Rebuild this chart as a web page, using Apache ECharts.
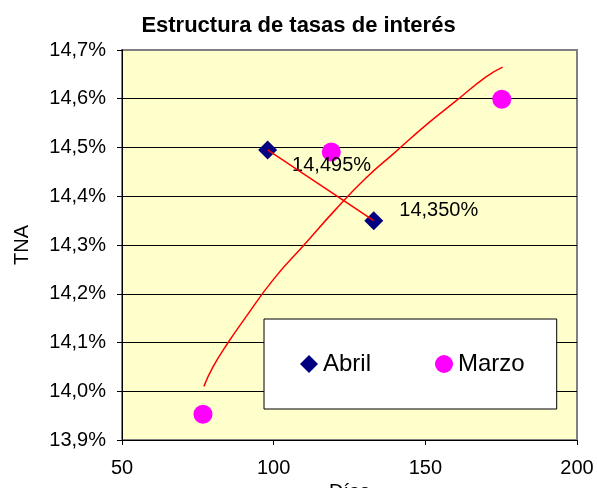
<!DOCTYPE html>
<html>
  <head>
    <title>Estructura de tasas de interés</title>
    <meta charset='utf-8' />
    <script src="https://cdn.jsdelivr.net/npm/echarts@6/dist/echarts.min.js"></script>
    <style>
      body { margin: 0; background: #fff; }
    </style>
  </head>
  <body>
    <div id="content" style="width: 597px; height: 488px;"></div>

    <script type="text/javascript">
      // Puntos de cada curva (días, TNA %)
      var abril = [[98, 14.495], [133, 14.350]];
      var marzo = [[76.7, 13.953], [119, 14.491], [175.2, 14.599]];

      // Líneas de tendencia
      var abrilTrend = [[98, 14.495], [133, 14.350]];
      var marzoTrend = [[77, 14.01], [80, 14.05], [85, 14.10], [90, 14.145], [100, 14.23],
                        [110, 14.30], [120, 14.37], [130, 14.435], [140, 14.49], [150, 14.545],
                        [160, 14.595], [170, 14.645], [175.5, 14.665]];

      var font = 'Liberation Sans, Arial, sans-serif';

      function pct(v, d) {
        return v.toFixed(d).replace('.', ',') + '%';
      }

      var myChart = echarts.init(document.getElementById('content'));
      var options = {
        animation: false,
        title: {
          text: 'Estructura de tasas de interés',
          left: 'center',
          top: 10,
          textStyle: {fontFamily: font, fontSize: 22, fontWeight: 'bold', color: '#000'}
        },
        legend: {
          data: ['Abril', 'Marzo'],
          left: 264,
          top: 319,
          orient: 'horizontal',
          backgroundColor: '#fff',
          borderColor: '#000',
          borderWidth: 1,
          padding: [33, 32, 33, 36],
          itemGap: 64,
          itemWidth: 18,
          itemHeight: 18,
          textStyle: {fontFamily: font, fontSize: 24, color: '#000'}
        },
        grid: {
          left: 122, right: 20, top: 50, bottom: 48,
          containLabel: false,
          outerBoundsMode: 'none',
          show: true,
          backgroundColor: '#FFFFCC',
          borderColor: '#808080',
          borderWidth: 2
        },
        xAxis: {
          type: 'value',
          min: 50, max: 200, interval: 50,
          name: 'Días',
          nameLocation: 'middle',
          nameGap: 32,
          nameTextStyle: {fontFamily: font, fontSize: 20, color: '#000'},
          axisLine: {lineStyle: {color: '#000', width: 1}},
          axisTick: {show: true, length: 5, lineStyle: {color: '#000'}},
          axisLabel: {fontFamily: font, fontSize: 20, color: '#000', margin: 18},
          splitLine: {show: false}
        },
        yAxis: {
          type: 'value',
          min: 13.9, max: 14.7, interval: 0.1,
          name: 'TNA',
          nameLocation: 'middle',
          nameRotate: 90,
          nameGap: 90,
          nameTextStyle: {fontFamily: font, fontSize: 20, color: '#000'},
          axisLine: {show: true, lineStyle: {color: '#000', width: 1}},
          axisTick: {show: true, length: 5, lineStyle: {color: '#000'}},
          axisLabel: {
            fontFamily: font, fontSize: 20, color: '#000', margin: 16,
            formatter: function (v) { return pct(v, 1); }
          },
          splitLine: {show: true, showMaxLine: false, lineStyle: {color: '#000', width: 1}}
        },
        series: [{
          name: 'Abril',
          type: 'scatter',
          symbol: 'diamond',
          symbolSize: 19,
          itemStyle: {color: '#000080', opacity: 1},
          data: abril.map(function (p, i) {
            return {
              value: p,
              label: {
                show: true,
                position: 'right',
                offset: i === 0 ? [10, 16] : [11, -10],
                fontFamily: font, fontSize: 20, color: '#000',
                formatter: function (o) { return pct(o.value[1], 3); }
              }
            };
          })
        }, {
          name: 'Marzo',
          type: 'scatter',
          symbol: 'circle',
          symbolSize: 19,
          itemStyle: {color: '#FF00FF', opacity: 1},
          data: marzo
        }, {
          name: 'AbrilTrend',
          type: 'line',
          showSymbol: false,
          symbol: 'none',
          z: 5,
          lineStyle: {color: '#FF0000', width: 1.5},
          data: abrilTrend
        }, {
          name: 'MarzoTrend',
          type: 'line',
          showSymbol: false,
          symbol: 'none',
          smooth: true,
          z: 5,
          lineStyle: {color: '#FF0000', width: 1.5},
          data: marzoTrend
        }]
      };
      myChart.setOption(options);
    </script>
  </body>
</html>
